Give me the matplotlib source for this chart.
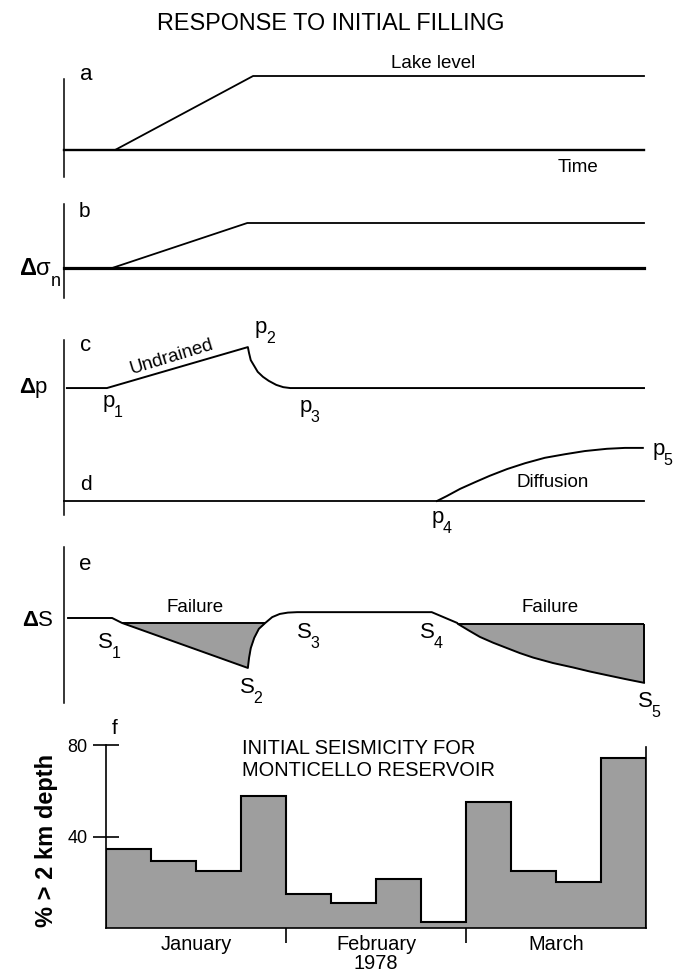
import matplotlib
matplotlib.use('Agg')
import matplotlib.pyplot as plt
import numpy as np

plt.rcParams['font.family'] = ['Liberation Sans', 'DejaVu Sans']
plt.rcParams['mathtext.fontset'] = 'custom'
plt.rcParams['mathtext.rm'] = 'Liberation Sans'
plt.rcParams['mathtext.it'] = 'Liberation Sans'
plt.rcParams['mathtext.bf'] = 'Liberation Sans:bold'

# ---------------- data (schematic time axis 0..100) ----------------
# a: lake level
a_t = [0, 8.8, 32.6, 100]
a_level = [0, 0, 1, 1]
# b: normal stress change
b_t = [0, 8.3, 31.6, 100]
b_sigma = [0, 0, 1, 1]
# c: undrained pore pressure response
c_t = [0.5, 7.4, 31.7, 31.9, 32.2, 32.8, 33.4, 34.3, 35.3, 36.6, 37.8, 39.0, 100]
c_p = [2.51, 2.51, 3.42, 3.29, 3.13, 3.00, 2.87, 2.76, 2.67, 2.58, 2.53, 2.51, 2.51]
# d: diffusion pore pressure response
d_t = [64.3, 66.0, 68.3, 70.9, 73.4, 76.4, 79.5, 82.9, 86.4, 89.8, 93.6, 96.7, 99.8]
d_p = [0, 0.11, 0.27, 0.42, 0.56, 0.71, 0.84, 0.96, 1.04, 1.11, 1.16, 1.18, 1.18]
# e: strength change
e_t = [0.7, 8.3, 10.0, 31.7, 31.9, 32.2, 32.8, 33.6, 34.7, 35.9, 37.2, 38.6, 40.2,
       63.4, 67.8, 67.9, 69.7, 71.7, 74.0, 76.4, 78.6, 80.9, 84.3, 87.8, 90.7,
       93.6, 96.9, 100]
e_s = [0, 0, -0.11, -1.11, -0.89, -0.67, -0.44, -0.24, -0.11, 0.02, 0.09, 0.12, 0.13,
       0.13, -0.11, -0.13, -0.27, -0.42, -0.55, -0.67, -0.78, -0.88, -1.00, -1.10, -1.19,
       -1.27, -1.36, -1.44]
failure1_level = -0.11
failure1_range = (10.0, 34.7)
failure2_level = -0.13
failure2_range = (67.9, 100)
# f: weekly seismicity
week_vals = [34.5, 29.3, 24.9, 57.7, 14.9, 10.9, 21.4, 2.6, 55.0, 24.9, 20.1, 74.3]
month_labels = ['January', 'February\n1978', 'March']
month_bounds = [4, 8]
f_yticks = [40, 80]

GRAY = '#9e9e9e'

# ---------------- figure ----------------
W, H = 678, 977
fig = plt.figure(figsize=(W / 100, H / 100), dpi=100)
renderer = fig.canvas.get_renderer()


def add_ax(left, right, top, bottom):
    ax = fig.add_axes([left / W, 1 - bottom / H, (right - left) / W, (bottom - top) / H])
    ax.patch.set_alpha(0)
    for s in ('top', 'right', 'bottom'):
        ax.spines[s].set_visible(False)
    ax.spines['left'].set_linewidth(1.1)
    ax.set_xticks([])
    ax.set_yticks([])
    return ax


def ft(x, y, s, **kw):
    return fig.text(x / W, 1 - y / H, s, **kw)


def sub_label(x, y, main, sub, size=16, subsize=11.5, drop=10):
    t = ft(x, y, main, ha='left', va='baseline', fontsize=size)
    bb = t.get_window_extent(renderer)
    ft(bb.x1 - 1.5, y + drop, sub, ha='left', va='baseline', fontsize=subsize)


ft(331, 23, 'RESPONSE TO INITIAL FILLING', ha='center', va='center', fontsize=16.8)

# panel a
ax_a = add_ax(64, 644, 79, 177)
ax_a.set_xlim(0, 100)
ax_a.set_ylim(-27 / 74, 71 / 74)
ax_a.spines['bottom'].set_visible(True)
ax_a.spines['bottom'].set_position(('data', 0))
ax_a.spines['bottom'].set_linewidth(1.7)
ax_a.plot(a_t, a_level, color='k', lw=1.3, clip_on=False)
ft(86, 80, 'a', ha='center', va='baseline', fontsize=16)
ft(433, 63, 'Lake level', ha='center', va='center', fontsize=13.5)
ft(578, 168, 'Time', ha='center', va='center', fontsize=13.5)

# panel b
ax_b = add_ax(64, 644, 204, 298)
ax_b.set_xlim(0, 100)
ax_b.set_ylim(-30 / 45, 64 / 45)
ax_b.spines['bottom'].set_visible(True)
ax_b.spines['bottom'].set_position(('data', 0))
ax_b.spines['bottom'].set_linewidth(2.3)
ax_b.plot(b_t, b_sigma, color='k', lw=1.3, clip_on=False)
ft(84, 217, 'b', ha='center', va='baseline', fontsize=15)
tn = ft(61, 286, 'n', ha='right', va='baseline', fontsize=13)
bbn = tn.get_window_extent(renderer)
ft(bbn.x0 + 1.5, 275, r'$\mathbf{\Delta}\mathregular{\sigma}$', ha='right', va='baseline', fontsize=17)

# panel c/d
ax_c = add_ax(64, 644, 340, 515)
ax_c.set_xlim(0, 100)
ax_c.set_ylim(-14 / 45, 161 / 45)
ax_c.spines['bottom'].set_visible(True)
ax_c.spines['bottom'].set_position(('data', 0))
ax_c.spines['bottom'].set_linewidth(1.3)
ax_c.plot(c_t, c_p, color='k', lw=1.4, clip_on=False)
ax_c.plot(d_t, d_p, color='k', lw=1.4, clip_on=False)
ft(86, 351, 'c', ha='center', va='baseline', fontsize=16)
ft(86, 490, 'd', ha='center', va='baseline', fontsize=15)
ft(48, 393, r'$\mathbf{\Delta}\mathregular{p}$', ha='right', va='baseline', fontsize=16)
ft(172, 357, 'Undrained', ha='center', va='center', fontsize=13.5,
   rotation=17, rotation_mode='anchor')
sub_label(103, 407, 'p', '1')
sub_label(255, 333, 'p', '2')
sub_label(300, 412, 'p', '3')
sub_label(432, 523, 'p', '4')
sub_label(653, 455, 'p', '5')
ft(553, 483, 'Diffusion', ha='center', va='center', fontsize=13.5)

# panel e
ax_e = add_ax(64, 644, 547, 703)
ax_e.set_xlim(0, 100)
ax_e.set_ylim(-85 / 45, 71 / 45)
et = np.array(e_t)
es = np.array(e_s)
m1 = (et >= failure1_range[0]) & (et <= failure1_range[1])
m2 = (et >= failure2_range[0]) & (et <= failure2_range[1])
ax_e.fill_between(et[m1], es[m1], failure1_level, color=GRAY, lw=0)
ax_e.fill_between(et[m2], es[m2], failure2_level, color=GRAY, lw=0)
ax_e.plot(et, es, color='k', lw=1.4, clip_on=False)
ax_e.hlines(failure1_level, et[m1][0], et[m1][-1], color='k', lw=1.4)
ax_e.hlines(failure2_level, et[m2][0], et[m2][-1], color='k', lw=1.4)
ax_e.vlines(et[-1], es[-1], failure2_level, color='k', lw=1.4, clip_on=False)
ft(85, 570, 'e', ha='center', va='baseline', fontsize=16)
ft(54, 626, r'$\mathbf{\Delta}\mathregular{S}$', ha='right', va='baseline', fontsize=16)
ft(195, 608, 'Failure', ha='center', va='center', fontsize=13.5)
ft(550, 608, 'Failure', ha='center', va='center', fontsize=13.5)
sub_label(98, 648, 'S', '1')
sub_label(240, 693, 'S', '2')
sub_label(297, 638, 'S', '3')
sub_label(420, 638, 'S', '4')
sub_label(638, 707, 'S', '5')

# panel f
ax_f = fig.add_axes([106 / W, 1 - 928 / H, (646 - 106) / W, (928 - 745) / H])
ax_f.patch.set_alpha(0)
n = len(week_vals)
edges = np.arange(n + 1)
ax_f.bar(edges[:-1], week_vals, width=1, align='edge', color=GRAY, edgecolor='none')
ax_f.stairs(week_vals, edges, color='k', lw=1.5, baseline=0)
ax_f.set_xlim(0, n)
ax_f.set_ylim(0, 80)
ax_f.spines['top'].set_visible(False)
ax_f.spines['right'].set_bounds(0, 79)
for s in ('left', 'right', 'bottom'):
    ax_f.spines[s].set_linewidth(1.2)
ax_f.set_yticks(f_yticks)
ax_f.set_yticklabels([str(v) for v in f_yticks], fontsize=13)
ax_f.tick_params(axis='y', direction='inout', length=19, width=1.2, pad=4)
ax_f.set_xticks(month_bounds)
ax_f.set_xticklabels(['', ''])
ax_f.tick_params(axis='x', which='major', direction='out', length=10.5, width=1.2)
ax_f.set_xticks([2, 6, 10], minor=True)
ax_f.set_xticklabels(month_labels, minor=True, fontsize=14.4, linespacing=1.0)
ax_f.tick_params(axis='x', which='minor', length=0, pad=5)
ft(115, 734, 'f', ha='center', va='baseline', fontsize=15)
ft(47, 840, '% > 2 km depth', rotation=90, ha='center', va='center',
   fontsize=17, fontweight='bold')
ft(242, 760, 'INITIAL SEISMICITY FOR\nMONTICELLO RESERVOIR', ha='left', va='center',
   fontsize=14.4, linespacing=1.2)

fig.savefig('out.png', dpi=100)
